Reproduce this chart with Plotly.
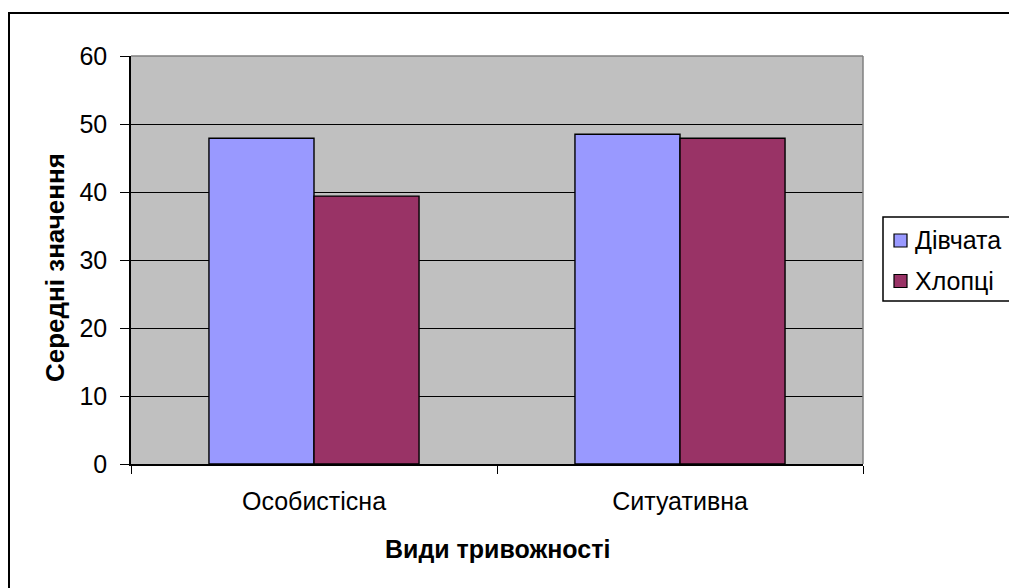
import plotly.graph_objects as go

# Mean anxiety scores by type and group
categories = ["Особистісна", "Ситуативна"]
girls = [47.9, 48.5]
boys = [39.4, 47.9]
series_names = ["Дівчата", "Хлопці"]
series_colors = ["#9999FF", "#993366"]
y_ticks = [0, 10, 20, 30, 40, 50, 60]

FONT = "Liberation Sans, Arial, sans-serif"
W, H = 1009, 588
M_L, M_R, M_T, M_B = 131, 146, 56, 124
PW, PH = W - M_L - M_R, H - M_T - M_B


def px_x(v):
    """Pixel column -> paper x."""
    return (v - M_L) / PW


def px_y(v):
    """Pixel row (from top) -> paper y."""
    return (H - M_B - v) / PH


fig = go.Figure()
for name, vals, col in zip(series_names, [girls, boys], series_colors):
    fig.add_trace(go.Bar(
        x=categories, y=vals, name=name,
        marker=dict(color=col, line=dict(color="black", width=1.4)),
    ))

shapes = [
    # gray top and right edges of the plot area
    dict(type="line", xref="paper", yref="paper", x0=0, x1=1, y0=1, y1=1,
         line=dict(color="#808080", width=1.5)),
    dict(type="line", xref="paper", yref="paper", x0=1, x1=1, y0=0, y1=1,
         line=dict(color="#808080", width=1.5)),
    # outer chart frame
    dict(type="rect", xref="paper", yref="paper",
         x0=px_x(9), x1=px_x(1100), y0=px_y(700), y1=px_y(13),
         line=dict(color="black", width=2), layer="below"),
    # legend box
    dict(type="rect", xref="paper", yref="paper",
         x0=px_x(883), x1=px_x(1100), y0=px_y(301), y1=px_y(217),
         line=dict(color="black", width=1.5), fillcolor="white"),
]

annotations = [
    dict(text="<b>Середні значення</b>", xref="paper", yref="paper",
         x=px_x(55), y=px_y(268), textangle=-90, showarrow=False,
         xanchor="center", yanchor="middle",
         font=dict(family=FONT, size=26)),
    dict(text="<b>Види тривожності</b>", xref="paper", yref="paper",
         x=0.5, y=px_y(549), showarrow=False,
         xanchor="center", yanchor="middle",
         font=dict(family=FONT, size=25)),
]

# legend entries
for i, (name, col) in enumerate(zip(series_names, series_colors)):
    cy = 240.5 + i * 40.5
    shapes.append(dict(
        type="rect", xref="paper", yref="paper",
        x0=px_x(894), x1=px_x(907), y0=px_y(cy + 6.5), y1=px_y(cy - 6.5),
        fillcolor=col, line=dict(color="black", width=1.2),
    ))
    annotations.append(dict(
        text=name, xref="paper", yref="paper",
        x=px_x(913), y=px_y(cy), xanchor="left", yanchor="middle",
        showarrow=False, font=dict(family=FONT, size=25),
    ))

fig.update_layout(
    width=W, height=H,
    margin=dict(l=M_L, r=M_R, t=M_T, b=M_B),
    paper_bgcolor="white",
    plot_bgcolor="#C0C0C0",
    font=dict(family=FONT, size=25, color="black"),
    barmode="group",
    bargap=0.426,
    bargroupgap=0,
    showlegend=False,
    xaxis=dict(
        tickson="boundaries", ticks="outside", ticklen=8, tickcolor="black",
        showline=True, linecolor="black", linewidth=1.5,
        showgrid=False, ticklabelstandoff=14,
        tickfont=dict(family=FONT, size=25),
    ),
    yaxis=dict(
        range=[0, 60], tickvals=y_ticks, ticks="outside", ticklen=9,
        tickcolor="black", showline=True, linecolor="black", linewidth=1.5,
        showgrid=True, gridcolor="black", gridwidth=1.2,
        zeroline=False, ticklabelstandoff=8,
        tickfont=dict(family=FONT, size=25),
    ),
    annotations=annotations,
    shapes=shapes,
)

fig.write_html("out.html")
